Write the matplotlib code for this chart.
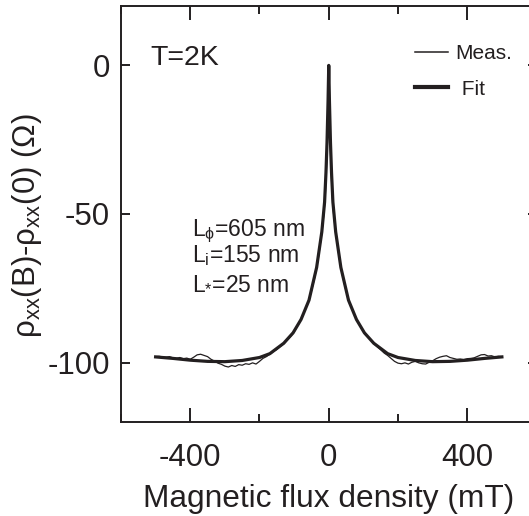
import numpy as np
import matplotlib
matplotlib.use("Agg")
import matplotlib.pyplot as plt
from matplotlib.ticker import MultipleLocator

plt.rcParams['font.family'] = ['Liberation Sans', 'DejaVu Sans']
plt.rcParams['mathtext.fontset'] = 'custom'
plt.rcParams['mathtext.rm'] = 'Liberation Sans'
plt.rcParams['mathtext.it'] = 'Liberation Sans:italic'
plt.rcParams['axes.unicode_minus'] = False

ink = '#231f20'

b_meas = [-500, -490, -480, -470, -460, -450, -440, -430, -420, -410, -400,
          -390, -380, -370, -360, -350, -340, -330, -320, -310, -300, -290,
          -280, -270, -260, -250, -240, -230, -220, -210, -200, -190, -180,
          -170, -160, -150, -140, -130, -120, -110, -100, -90, -80, -70, -60,
          -50, -40, -30, -20, -14, -10, -6, -3, -1, 0, 1, 3, 6, 10, 14, 20,
          30, 40, 50, 60, 70, 80, 90, 100, 110, 120, 130, 140, 150, 160, 170,
          180, 190, 200, 210, 220, 230, 240, 250, 260, 270, 280, 290, 300,
          310, 320, 330, 340, 350, 360, 370, 380, 390, 400, 410, 420, 430,
          440, 450, 460, 470, 480, 490, 500]
r_meas = [-98.0, -97.9, -98.1, -98.2, -98.0, -98.4, -98.6, -98.3, -98.7, -98.5,
          -98.9, -98.2, -97.4, -97.2, -97.6, -98.0, -98.9, -99.5, -100.2,
          -100.6, -101.2, -101.5, -101.0, -101.3, -100.7, -100.9, -100.4,
          -100.6, -100.1, -100.5, -99.6, -98.6, -98.0, -97.2, -96.3, -95.6,
          -94.6, -93.7, -92.4, -91.2, -89.7, -87.6, -85.4, -82.8, -79.9, -76.0,
          -71.2, -64.8, -56.5, -50.0, -44.0, -33.0, -22.0, -10.0, 0.0, -10.0,
          -22.0, -33.0, -44.0, -50.0, -56.3, -64.6, -71.0, -75.9, -79.7, -82.6,
          -85.3, -87.5, -89.5, -91.0, -92.3, -93.6, -94.7, -95.7, -96.8, -97.6,
          -98.6, -99.6, -100.2, -100.4, -100.1, -100.5, -99.9, -99.6, -100.1,
          -100.4, -100.5, -99.9, -99.4, -98.7, -98.2, -97.9, -97.7, -98.3,
          -98.6, -98.9, -98.8, -99.0, -98.7, -98.6, -98.4, -97.9, -97.4, -97.3,
          -97.8, -97.7, -98.1, -97.9, -98.0]

# fit curve
b_fit = [-500, -450, -400, -350, -300, -250, -200, -170, -130, -103, -80,
         -57, -35, -20, -12, -8, -5, -2, 0, 2, 5, 8, 12, 20, 35, 57, 80, 103,
         130, 170, 200, 250, 300, 350, 400, 450, 500]
r_fit = [-98.1, -98.6, -99.2, -99.6, -99.7, -99.3, -98.3, -97.0, -93.5, -90.0,
         -85.5, -79.0, -68.0, -56.0, -46.0, -36.0, -26.0, -12.0, 0.0, -12.0,
         -26.0, -36.0, -46.0, -56.0, -68.0, -79.0, -85.5, -90.0, -93.5, -97.0,
         -98.3, -99.3, -99.7, -99.6, -99.2, -98.6, -98.1]

params = ['L$_{\\mathregular{ϕ}}$=605 nm',
          'L$_{\\mathregular{i}}$=155 nm',
          'L$_{\\mathregular{*}}$=25 nm']

fig = plt.figure(figsize=(5.29, 5.16), dpi=100)
ax = fig.add_axes([0.2287, 0.1822, 0.7855, 0.8062])

ax.plot(b_meas, r_meas, color=ink, lw=0.9, label='Meas.')
ax.plot(b_fit, r_fit, color=ink, lw=2.3, label=' Fit')

ax.set_xlim(-600, 600)
ax.set_ylim(-120, 20)
ax.xaxis.set_major_locator(MultipleLocator(400))
ax.xaxis.set_minor_locator(MultipleLocator(200))
ax.yaxis.set_major_locator(MultipleLocator(50))

for s in ax.spines.values():
    s.set_linewidth(1.4)
    s.set_color(ink)

ax.tick_params(axis='x', which='major', direction='in', top=True, length=10,
               width=1.4, color=ink, labelsize=22.5, pad=15, labelcolor=ink)
ax.tick_params(axis='x', which='minor', direction='in', top=True, length=5.5,
               width=1.4, color=ink)
ax.tick_params(axis='y', which='major', direction='in', right=True, length=6.5,
               width=1.4, color=ink, labelsize=22.5, pad=8, labelcolor=ink)

ax.set_xlabel('Magnetic flux density (mT)', fontsize=22.8, color=ink)
ax.xaxis.set_label_coords(0.5, -0.148)
ax.set_ylabel('ρ$_{\\mathregular{xx}}$(B)-ρ$_{\\mathregular{xx}}$(0) (Ω)',
              fontsize=22.5, color=ink)
ax.yaxis.set_label_coords(-0.186, 0.471)

ax.text(-515, 0.0, 'T=2K', fontsize=20.5, color=ink)
for i, p in enumerate(params):
    ax.text(-395, -57.5 - 8.8 * i, p, fontsize=16.5, color=ink)

leg = ax.legend(loc='upper left', bbox_to_anchor=(0.7845, 0.915),
                bbox_transform=fig.transFigure, frameon=False, fontsize=15,
                handlelength=1.6, handletextpad=0.35, labelspacing=0.8,
                borderpad=0, borderaxespad=0)
for t in leg.get_texts():
    t.set_color(ink)
leg.get_lines()[0].set_linewidth(1.1)
leg.get_lines()[1].set_linewidth(3.0)

fig.savefig('out.png', dpi=100)
